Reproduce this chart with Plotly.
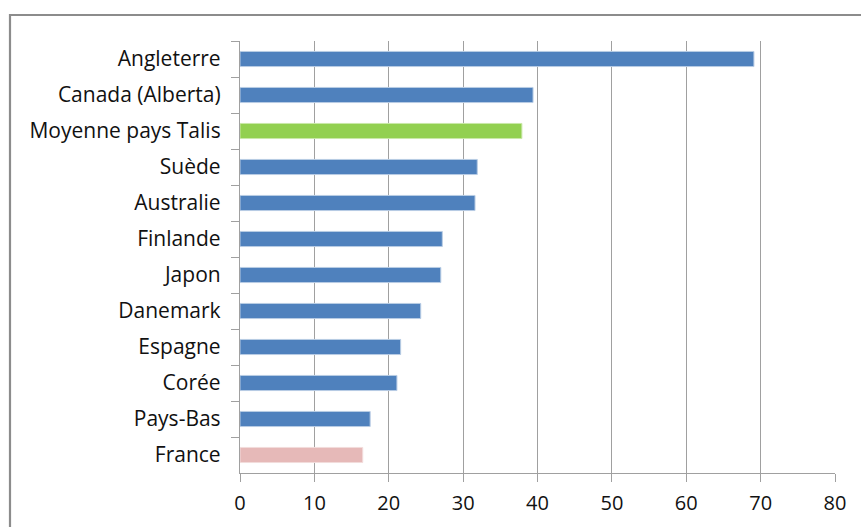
import plotly.graph_objects as go

categories = ["Angleterre", "Canada (Alberta)", "Moyenne pays Talis", "Suède", "Australie",
              "Finlande", "Japon", "Danemark", "Espagne", "Corée", "Pays-Bas", "France"]
values = [69.1, 39.4, 37.9, 31.9, 31.6, 27.2, 27.0, 24.3, 21.6, 21.1, 17.5, 16.5]
bar_colors = ["#4F81BD", "#4F81BD", "#92D050", "#4F81BD", "#4F81BD", "#4F81BD",
              "#4F81BD", "#4F81BD", "#4F81BD", "#4F81BD", "#4F81BD", "#E6B9B8"]
edge_colors = ["#B8CCE4", "#B8CCE4", "#C9E8A8", "#B8CCE4", "#B8CCE4", "#B8CCE4",
               "#B8CCE4", "#B8CCE4", "#B8CCE4", "#B8CCE4", "#B8CCE4", "#F2DCDB"]
x_ticks = [0, 10, 20, 30, 40, 50, 60, 70, 80]

fig = go.Figure(go.Bar(
    x=values, y=categories, orientation="h",
    marker=dict(color=bar_colors, line=dict(color=edge_colors, width=1)),
    width=0.42,
))

W, H = 861, 527
l, r, t, b = 240, 26, 41, 54
pw, ph = W - l - r, H - t - b

fig.update_layout(
    width=W, height=H,
    margin=dict(l=l, r=r, t=t, b=b),
    paper_bgcolor="white", plot_bgcolor="white",
    font=dict(family="Open Sans", size=20, color="#111111"),
    showlegend=False,
)
fig.update_xaxes(
    range=[0, 80], tickvals=x_ticks, ticktext=[str(v) for v in x_ticks],
    showgrid=True, gridcolor="#A0A0A0", gridwidth=1.3,
    showline=True, linecolor="#A0A0A0", linewidth=1.3,
    ticks="outside", ticklen=8, tickcolor="#A0A0A0", tickwidth=1.3,
    zeroline=False, tickfont=dict(size=20), ticklabelstandoff=4,
)
fig.update_yaxes(
    categoryorder="array", categoryarray=categories, autorange="reversed",
    showline=True, linecolor="#A0A0A0", linewidth=1.3,
    ticks="outside", ticklen=8, tickcolor="#A0A0A0", tickwidth=1.3,
    tickson="boundaries", showgrid=False, ticklabelstandoff=14,
    tickfont=dict(size=21),
)

# outer chart frame
x0 = (10 - l) / pw
x1 = (W + 20 - l) / pw
y1 = (H - 15 - b) / ph
y0 = -(b + 20) / ph
fig.add_shape(type="rect", xref="paper", yref="paper", x0=x0, x1=x1, y0=y0, y1=y1,
              line=dict(color="#8C8C8C", width=2.2), layer="below")

fig.write_html("out.html", config={"displayModeBar": False},
               post_script="document.body.style.margin='0';document.body.style.overflow='hidden';")
